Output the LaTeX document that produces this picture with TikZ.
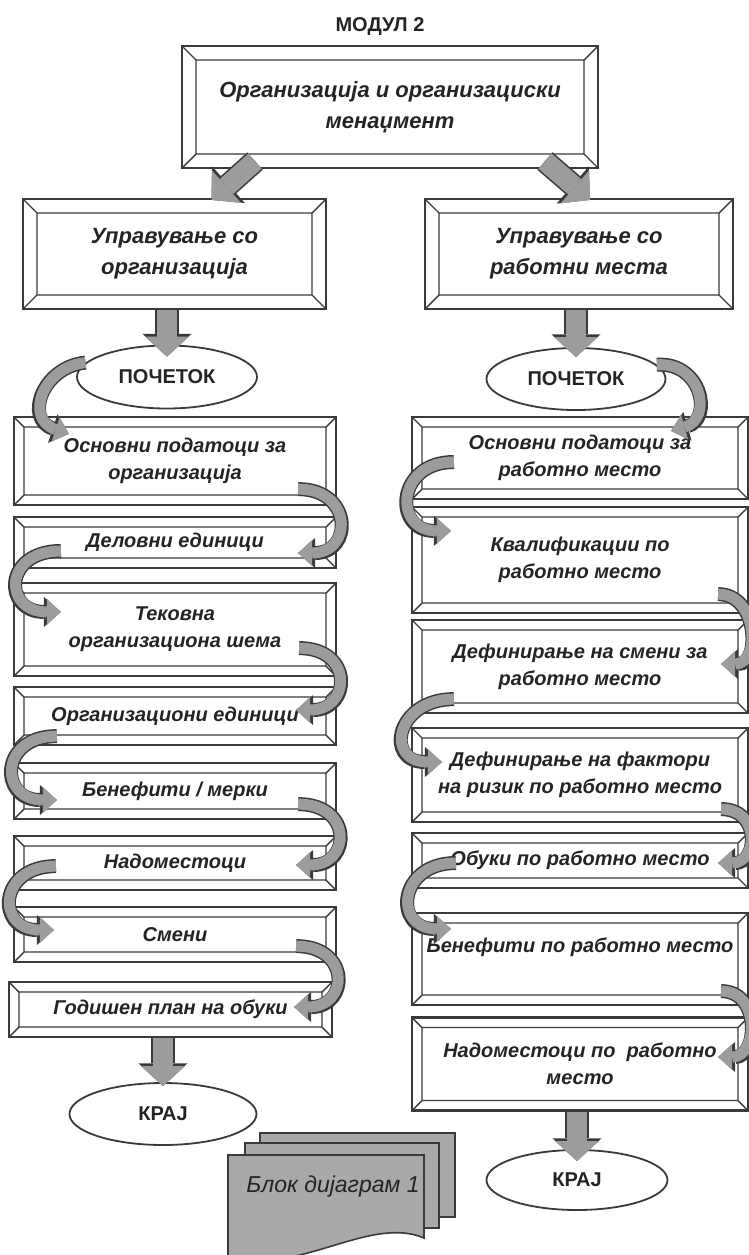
\documentclass[tikz,border=0pt]{standalone}
\usepackage{fontspec}
\setmainfont{Liberation Sans}
\usetikzlibrary{arrows.meta,shapes.geometric}
\definecolor{MGray}{HTML}{9C9C9C}
\definecolor{MPage}{HTML}{A9A9A9}
\definecolor{MEdge}{HTML}{3A3A3A}
\definecolor{MText}{HTML}{242424}
\newcommand{\boxfont}{\bfseries\itshape\fontsize{10}{13.5}\selectfont}
\newcommand{\headfont}{\bfseries\itshape\fontsize{11}{15.5}\selectfont}

\begin{document}
\begin{tikzpicture}[
  x=0.5pt, y=-0.5pt,
  bevel/.style={draw=MEdge, line width=1.1pt, fill=white, align=center,
    inner sep=1pt, text=MText, font=\boxfont,
    path picture={
      \draw[MEdge, line width=.7pt]
        ([shift={(#1,-#1)}]path picture bounding box.north west)
          rectangle ([shift={(-#1,#1)}]path picture bounding box.south east)
        (path picture bounding box.north west) -- ++(#1,-#1)
        (path picture bounding box.north east) -- ++(-#1,-#1)
        (path picture bounding box.south west) -- ++(#1,#1)
        (path picture bounding box.south east) -- ++(-#1,#1);
    }},
  bevel/.default=5pt,
  head/.style={bevel=7pt, font=\headfont},
  lbox/.style={bevel, minimum width=161pt},
  rbox/.style={bevel, minimum width=168pt},
  term/.style={ellipse, draw=MEdge, line width=.9pt, fill=white, inner sep=0pt,
    text=MText, font=\bfseries\fontsize{10}{12}\selectfont},
  barr/.style={line width=10pt, draw=MGray,
    -{Triangle[width=22pt,length=10pt,line width=0pt]},
    preaction={draw=MEdge, line width=11.6pt,
      -{Triangle[width=24.5pt,length=11.4pt,line width=0pt]}}},
  carr/.style={line width=5.5pt, draw=MGray,
    -{Triangle[width=13pt,length=7pt,line width=0pt]},
    preaction={draw=MEdge, line width=7pt,
      -{Triangle[width=15pt,length=8.5pt,line width=0pt]}}}
]
  \useasboundingbox (0,0) rectangle (749,1255);

  \node[font=\bfseries\fontsize{10}{12}\selectfont, text=MText] (modul) at (380,27) {МОДУЛ 2};
  \node[head, minimum width=208pt, minimum height=61pt] (org) at (390,107)
    {Организација и организациски\\менаџмент};

  \node[head, minimum width=151.5pt, minimum height=55pt] (lorg) at (174.5,254)
    {Управување со\\организација};
  \node[head, minimum width=154pt, minimum height=55pt] (rorg) at (579,254)
    {Управување со\\работни места};

  \node[term, minimum width=90pt, minimum height=31.5pt] (lstart) at (167,377) {ПОЧЕТОК};
  \node[term, minimum width=89.5pt, minimum height=31pt] (rstart) at (576,379) {ПОЧЕТОК};

  % left column
  \node[lbox, minimum height=44pt] (l1) at (175,461) {Основни податоци за\\организација};
  \node[lbox, minimum height=25.5pt] (l2) at (175,542.5) {Деловни единици};
  \node[lbox, minimum height=46.5pt] (l3) at (175,629.5) {Тековна\\организациона шема};
  \node[lbox, minimum height=29pt] (l4) at (175,716) {Организациони единици};
  \node[lbox, minimum height=28pt] (l5) at (175,791) {Бенефити / мерки};
  \node[lbox, minimum height=27pt] (l6) at (175,863) {Надоместоци};
  \node[lbox, minimum height=27.5pt] (l7) at (175,934.5) {Смени};
  \node[lbox, minimum width=161.5pt, minimum height=27.5pt] (l8) at (170.5,1009.5) {Годишен план на обуки};
  \node[term, minimum width=93.5pt, minimum height=31pt] (lend) at (163,1114) {КРАЈ};

  % right column
  \node[rbox, minimum height=41pt] (r1) at (580,458) {Основни податоци за\\работно место};
  \node[rbox, minimum height=53pt] (r2) at (580,560) {Квалификации по\\работно место};
  \node[rbox, minimum height=46.5pt] (r3) at (580,666.5) {Дефинирање на смени за\\работно место};
  \node[rbox, minimum height=47pt] (r4) at (580,775) {Дефинирање на фактори\\на ризик по работно место};
  \node[rbox, minimum height=27.5pt] (r5) at (580,860.5) {Обуки по работно место};
  \node[rbox, minimum height=46pt] (r6) at (580,959) {Бенефити по работно место\\\mbox{}};
  \node[rbox, minimum height=46.5pt] (r7) at (580,1064) {Надоместоци по\ \ работно\\место};
  \node[term, minimum width=90.5pt, minimum height=30pt] (rend) at (577,1180) {КРАЈ};

  % block diagram pages
  \filldraw[fill=MPage, draw=MEdge, line width=.8pt] (260,1133) rectangle (455,1217);
  \filldraw[fill=MPage, draw=MEdge, line width=.8pt] (245,1143) rectangle (439,1228);
  \filldraw[fill=MPage, draw=MEdge, line width=.8pt]
    (228,1155) -- (424,1155) -- (424,1238) .. controls (370,1215) and (300,1275) .. (228,1258) -- cycle;
  \node[font=\itshape\fontsize{11.5}{13}\selectfont, text=MText] (blok) at (333,1187) {Блок дијаграм 1};

  % straight arrows
  \draw[barr] ([shift={(-135,-8)}]org.south) -- ([shift={(37,2)}]lorg.north);
  \draw[barr] ([shift={(155,-8)}]org.south) -- ([shift={(11,2)}]rorg.north);
  \draw[barr] (lorg.south -| lstart.north) -- ([yshift=-6pt]lstart.north);
  \draw[barr] (rorg.south -| rstart.north) -- ([yshift=-5pt]rstart.north);
  \draw[barr] (l8.south -| lend.north) -- ([yshift=-2pt]lend.north);
  \draw[barr] (r7.south -| rend.north) -- ([yshift=-6pt]rend.north);

  % curved arrows, left
  \draw[carr] (lstart.170) .. controls +(-43,4) and +(-45,-15) .. ([shift={(56,18)}]l1.north west);
  \draw[carr] ([shift={(-39,-17)}]l1.south east) .. controls +(55,0) and +(55,0) .. ([shift={(-39,10.5)}]l2.east);
  \draw[carr] ([shift={(48,8.5)}]l2.west) .. controls +(-58,0) and +(-58,0) .. ([shift={(48,30)}]l3.north west);
  \draw[carr] ([shift={(-38,-29)}]l3.south east) .. controls +(55,0) and +(55,0) .. ([shift={(-41,-6)}]l4.east);
  \draw[carr] ([shift={(44,-10)}]l4.south west) .. controls +(-58,0) and +(-58,0) .. ([shift={(44,9)}]l5.west);
  \draw[carr] ([shift={(-39,-16)}]l5.south east) .. controls +(55,0) and +(55,0) .. ([shift={(-41,2)}]l6.east);
  \draw[carr] ([shift={(43,-25)}]l6.south west) .. controls +(-58,0) and +(-58,0) .. ([shift={(41,-4.5)}]l7.west);
  \draw[carr] ([shift={(-41,-17)}]l7.south east) .. controls +(55,0) and +(55,0) .. ([shift={(-39,-2.5)}]l8.east);

  % curved arrows, right
  \draw[carr] (rstart.10) .. controls +(45,-3) and +(42,-12) .. ([shift={(-78,15)}]r1.north east);
  \draw[carr] ([shift={(43,4)}]r1.west) .. controls +(-58,0) and +(-58,0) .. ([shift={(40,25)}]r2.north west);
  \draw[carr] ([shift={(-31,-20)}]r2.south east) .. controls +(40,0) and +(40,0) .. ([shift={(-28,-2.5)}]r3.east);
  \draw[carr] ([shift={(43,-15)}]r3.south west) .. controls +(-58,0) and +(-58,0) .. ([shift={(31,-13)}]r4.west);
  \draw[carr] ([shift={(-28,-14)}]r4.south east) .. controls +(40,0) and +(40,0) .. ([shift={(-31,2.5)}]r5.east);
  \draw[carr] ([shift={(45,2.5)}]r5.west) .. controls +(-58,0) and +(-58,0) .. ([shift={(40,17)}]r6.north west);
  \draw[carr] ([shift={(-28,-15)}]r6.south east) .. controls +(40,0) and +(40,0) .. ([shift={(-31,-7)}]r7.east);
\end{tikzpicture}
\end{document}
